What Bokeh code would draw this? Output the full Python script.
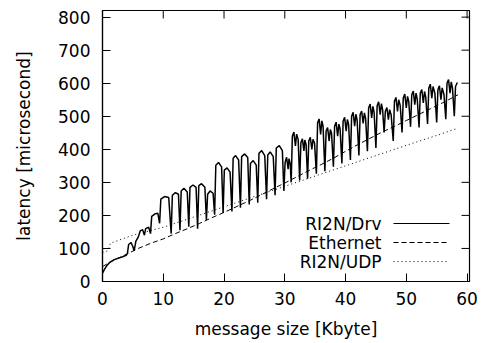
from bokeh.plotting import figure
from bokeh.models import Range1d, FixedTicker, Label, Arrow
from bokeh.embed import file_html
from bokeh.resources import INLINE

# ---------------- data ----------------
x_ticks = [0, 10, 20, 30, 40, 50, 60]
y_ticks = [0, 100, 200, 300, 400, 500, 600, 700, 800]

drv_x = [0.0, 0.3, 0.7, 1.2, 1.8, 2.5, 3.2, 3.9, 4.1, 4.3, 4.7, 5.0, 5.2, 5.5, 5.9, 6.2, 6.6, 6.9,
         7.1, 7.6, 7.9, 8.1, 8.6, 9.1, 9.4, 9.6, 10.2, 10.9,
         11.3, 11.5, 12.0, 12.5, 12.75, 12.95, 13.4, 13.95, 14.2, 14.4, 14.9, 15.4,
         15.65, 15.85, 16.3, 16.85, 17.1, 17.3, 17.7, 18.2, 18.45, 18.65, 19.1, 19.6,
         19.85, 20.05, 20.5, 21.0, 21.3, 21.5, 21.9, 22.4, 22.7, 22.9, 23.4, 23.9,
         24.15, 24.35, 24.8, 25.3, 25.55, 25.75, 26.2, 26.7, 27.0, 27.2, 27.6, 28.1,
         28.4, 28.6, 29.1, 29.6,
         29.85, 30.05, 30.3, 30.55, 30.7, 30.9,
         31.05, 31.25, 31.5, 31.75, 31.95, 32.2,
         32.45, 32.65, 32.9, 33.15, 33.3, 33.5,
         33.75, 33.95, 34.2, 34.45, 34.65, 34.9,
         35.2, 35.4, 35.65, 35.9, 36.1, 36.3,
         36.6, 36.8, 37.05, 37.3, 37.5, 37.7,
         38.0, 38.2, 38.45, 38.7, 38.9, 39.1,
         39.4, 39.6, 39.85, 40.1, 40.3, 40.5,
         40.8, 41.0, 41.25, 41.5, 41.7, 41.9,
         42.2, 42.4, 42.65, 42.9, 43.1, 43.3,
         43.6, 43.8, 44.05, 44.3, 44.5, 44.7,
         45.0, 45.2, 45.45, 45.7, 45.9, 46.1,
         46.35, 46.55, 46.8, 47.05, 47.25, 47.5,
         47.85, 48.05, 48.3, 48.55, 48.75, 49.0,
         49.3, 49.5, 49.75, 50.0, 50.2, 50.4,
         50.7, 50.9, 51.15, 51.4, 51.6, 51.8,
         52.1, 52.3, 52.55, 52.8, 53.0, 53.2,
         53.5, 53.7, 53.95, 54.2, 54.4, 54.7,
         55.0, 55.2, 55.45, 55.7, 55.9, 56.2,
         56.5, 56.7, 56.95, 57.2, 57.4, 57.6,
         57.9, 58.1, 58.4]
drv_y = [25, 36, 48, 58, 65, 70, 74, 79, 85, 112, 118, 105, 93, 122, 135, 153, 157, 140,
         160, 164, 145, 197, 204, 207, 176, 249, 257, 254,
         145, 261, 269, 264, 155, 274, 282, 271, 166, 285, 292, 285,
         160, 290, 296, 285, 186, 264, 274, 267, 202, 352, 360, 347,
         207, 337, 344, 331, 212, 373, 381, 368, 223, 378, 386, 375,
         233, 357, 366, 352, 238, 388, 396, 381, 249, 383, 392, 378,
         261, 404, 411, 396,
         274, 360, 376, 340, 372, 355,
         300, 440, 452, 410, 446, 430,
         306, 420, 432, 395, 428, 415,
         311, 425, 436, 400, 430, 418,
         326, 480, 492, 445, 486, 470,
         334, 455, 466, 425, 460, 448,
         347, 470, 482, 440, 476, 462,
         357, 485, 497, 455, 490, 476,
         368, 500, 512, 470, 506, 490,
         381, 505, 516, 478, 510, 494,
         394, 525, 537, 495, 530, 512,
         404, 532, 544, 505, 538, 520,
         451, 515, 526, 490, 520, 505,
         425, 545, 557, 515, 550, 532,
         451, 555, 567, 525, 560, 545,
         468, 565, 576, 535, 570, 552,
         466, 570, 581, 540, 575, 558,
         477, 585, 597, 555, 590, 570,
         481, 580, 592, 550, 586, 566,
         491, 600, 611, 570, 604, 585,
         500, 590, 602]

eth_x = [0, 1, 2, 3, 4, 6, 8, 10, 12, 14, 16, 18, 20, 22, 24, 26, 28, 30, 32, 34,
         36, 38, 40, 42, 44, 46, 48, 50, 52, 54, 56, 58, 58.5]
eth_y = [45, 56, 66, 74, 83, 101, 116, 129, 145, 160, 176, 193, 209, 226, 243, 261,
         280, 298, 317, 336, 354, 373, 394, 414, 433, 452, 469, 487, 505, 523, 541, 560, 565]

udp_x = [0, 0.9, 1.3, 5, 10, 15, 20, 25, 30, 35, 40, 45, 50, 55, 58.5]
udp_y = [88, 93, 116, 140, 164, 195, 226, 257, 288, 319, 350, 381, 412, 442, 464]

legend_labels = ["RI2N/Drv", "Ethernet", "RI2N/UDP"]

# ---------------- styling ----------------
FONT = "DejaVu Sans"
FS = "17px"
dashes = ["solid", "5 3", "1 3"]
widths = [1.5, 1.0, 1.0]
TICK = 8  # px, ticks drawn inward as in gnuplot

X_MAX, Y_MAX = 60.4, 820
p = figure(width=482, height=343, output_backend="svg", toolbar_location=None,
           x_range=Range1d(0, X_MAX), y_range=Range1d(0, Y_MAX),
           min_border_left=102, min_border_right=13, min_border_top=10, min_border_bottom=62,
           background_fill_color="white", border_fill_color="white")

p.xgrid.grid_line_color = None
p.ygrid.grid_line_color = None
p.outline_line_color = "black"
p.outline_line_width = 1.2

for ax, ticks in ((p.xaxis[0], x_ticks), (p.yaxis[0], y_ticks)):
    ax.ticker = FixedTicker(ticks=ticks)
    ax.major_tick_in = TICK
    ax.major_tick_out = 0
    ax.minor_tick_line_color = None
    ax.axis_line_color = "black"
    ax.axis_line_width = 1.2
    ax.major_tick_line_color = "black"
    ax.major_label_text_font = FONT
    ax.major_label_text_font_size = FS
    ax.major_label_text_color = "black"
    ax.axis_label_text_font = FONT
    ax.axis_label_text_font_style = "normal"
    ax.axis_label_text_font_size = FS
    ax.axis_label_text_color = "black"

p.xaxis[0].axis_label = "message size [Kbyte]"
p.yaxis[0].axis_label = "latency [microsecond]"
p.xaxis[0].major_label_standoff = 10
p.xaxis[0].axis_label_standoff = 11
p.yaxis[0].major_label_standoff = 12
p.yaxis[0].axis_label_standoff = 21

# mirrored inward ticks on the top and right borders
frame_w = 482 - 102 - 13
frame_h = 343 - 10 - 62
dx = TICK * X_MAX / frame_w
dy = TICK * Y_MAX / frame_h
p.segment(x0=x_ticks, y0=[Y_MAX] * len(x_ticks), x1=x_ticks, y1=[Y_MAX - dy] * len(x_ticks),
          line_color="black", line_width=1)
p.segment(x0=[X_MAX] * len(y_ticks), y0=y_ticks, x1=[X_MAX - dx] * len(y_ticks), y1=y_ticks,
          line_color="black", line_width=1)

series = [(drv_x, drv_y), (eth_x, eth_y), (udp_x, udp_y)]
for (xs, ys), dash, w in zip(series, dashes, widths):
    p.line(xs, ys, line_color="black", line_width=w, line_dash=dash)

# legend (gnuplot style: text on the left, sample on the right)
row_y = [58, 39, 20]
for lab, dash, w, yy in zip(legend_labels, dashes, widths, row_y):
    p.add_layout(Label(x=279, y=yy, x_units="screen", y_units="screen", text=lab,
                       text_align="right", text_baseline="middle", text_font=FONT,
                       text_font_size=FS, text_color="black"))
    p.add_layout(Arrow(end=None, x_start=291, y_start=yy, x_end=347, y_end=yy,
                       start_units="screen", end_units="screen",
                       line_color="black", line_width=min(w, 1.0), line_dash=dash))

open("out.html", "w").write(file_html(p, INLINE))
